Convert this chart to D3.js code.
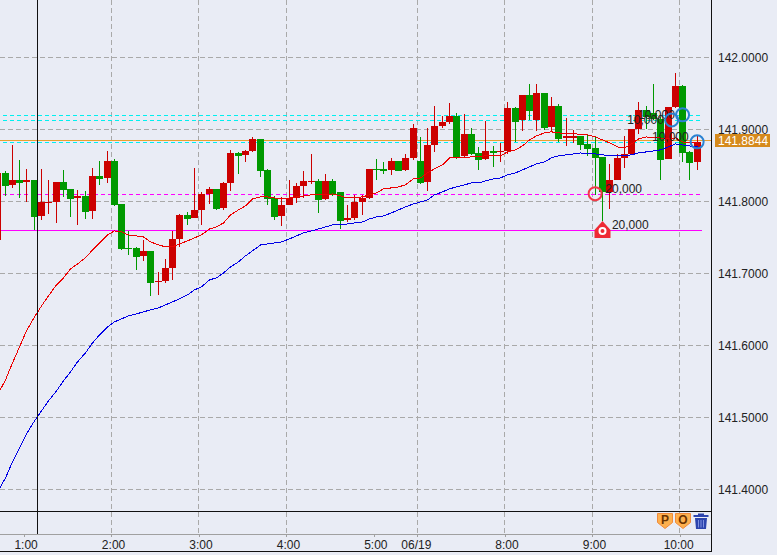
<!DOCTYPE html>
<html>
<head>
<meta charset="utf-8">
<script src="https://cdn.jsdelivr.net/npm/d3@7"></script>
<style>
  html, body { margin: 0; padding: 0; background: #e9ecf5; }
  svg { display: block; font-family: "Liberation Sans", Arial, sans-serif; }
  text { font-size: 12px; fill: #222; }
</style>
</head>
<body>
<svg id="chart" width="777" height="555"></svg>
<script>
// first candle is only just visible at the left edge
const firstIndex = -1;

const opens = [141.7463, 141.8393, 141.8227, 141.8296, 141.8268, 141.8296, 141.7796, 141.7976, 141.7990, 141.8268, 141.8171, 141.8046, 141.8074, 141.7865, 141.8352, 141.8324, 141.8560, 141.7962, 141.7352, 141.7352, 141.7241, 141.7310, 141.6879, 141.6893, 141.7074, 141.7477, 141.7810, 141.7768, 141.7879, 141.8101, 141.8171, 141.7907, 141.8254, 141.8671, 141.8644, 141.8699, 141.8865, 141.8435, 141.8046, 141.7796, 141.7949, 141.8046, 141.8213, 141.8268, 141.8282, 141.8032, 141.8282, 141.8129, 141.7740, 141.7768, 141.7990, 141.8046, 141.8449, 141.8449, 141.8435, 141.8560, 141.8435, 141.8602, 141.8560, 141.8268, 141.8782, 141.9046, 141.9101, 141.9185, 141.8630, 141.8935, 141.8671, 141.8588, 141.8699, 141.8685, 141.8699, 141.9296, 141.9129, 141.9476, 141.9129, 141.9504, 141.9032, 141.9324, 141.8879, 141.8879, 141.8907, 141.8796, 141.8740, 141.8616, 141.8129, 141.8296, 141.8602, 141.8657, 141.9004, 141.9268, 141.9226, 141.9143, 141.8588, 141.9310, 141.9601, 141.8685, 141.8546];
const highs = [141.8393, 141.8421, 141.8782, 141.8574, 141.8449, 141.8296, 141.8449, 141.8296, 141.8268, 141.8435, 141.8171, 141.8157, 141.8143, 141.8463, 141.8560, 141.8699, 141.8588, 141.7962, 141.7587, 141.7366, 141.7463, 141.7310, 141.7018, 141.7199, 141.7587, 141.7824, 141.7851, 141.8463, 141.8129, 141.8199, 141.8171, 141.8268, 141.8713, 141.8685, 141.8713, 141.8893, 141.8865, 141.8449, 141.8074, 141.8060, 141.8296, 141.8254, 141.8421, 141.8657, 141.8310, 141.8380, 141.8310, 141.8129, 141.7949, 141.8088, 141.8088, 141.8449, 141.8588, 141.8546, 141.8602, 141.8560, 141.8657, 141.9073, 141.8893, 141.9018, 141.9324, 141.9185, 141.9365, 141.9226, 141.9213, 141.9018, 141.8754, 141.9115, 141.8768, 141.8810, 141.9379, 141.9310, 141.9476, 141.9629, 141.9629, 141.9504, 141.9449, 141.9351, 141.9157, 141.8990, 141.8907, 141.8921, 141.8907, 141.8616, 141.8518, 141.8657, 141.8907, 141.9004, 141.9379, 141.9324, 141.9629, 141.9171, 141.9310, 141.9782, 141.9615, 141.8699, 141.8921];
const lows = [141.7463, 141.8074, 141.8185, 141.8046, 141.7990, 141.7601, 141.7740, 141.7824, 141.7698, 141.8060, 141.7782, 141.7670, 141.7754, 141.7754, 141.8227, 141.8254, 141.7935, 141.7324, 141.7255, 141.7046, 141.7171, 141.6685, 141.6699, 141.6865, 141.6907, 141.7366, 141.7670, 141.7768, 141.7670, 141.7962, 141.7879, 141.7879, 141.8143, 141.8380, 141.8546, 141.8685, 141.8338, 141.7949, 141.7740, 141.7657, 141.7949, 141.7976, 141.8046, 141.8240, 141.7838, 141.8018, 141.8074, 141.7615, 141.7712, 141.7740, 141.7810, 141.8032, 141.8296, 141.8380, 141.8366, 141.8421, 141.8421, 141.8574, 141.8240, 141.8143, 141.8685, 141.9018, 141.9073, 141.8588, 141.8616, 141.8644, 141.8435, 141.8574, 141.8477, 141.8546, 141.8657, 141.8824, 141.8976, 141.9129, 141.8976, 141.8990, 141.8963, 141.8824, 141.8768, 141.8810, 141.8713, 141.8630, 141.8088, 141.7726, 141.7893, 141.8296, 141.8463, 141.8657, 141.8935, 141.9004, 141.9129, 141.8296, 141.8588, 141.9296, 141.8546, 141.8296, 141.8435];
const closes = [141.8393, 141.8213, 141.8296, 141.8254, 141.8296, 141.7782, 141.7990, 141.7990, 141.8268, 141.8157, 141.8032, 141.8074, 141.7851, 141.8352, 141.8310, 141.8560, 141.7949, 141.7338, 141.7338, 141.7227, 141.7310, 141.6865, 141.6893, 141.7074, 141.7477, 141.7810, 141.7754, 141.7879, 141.8101, 141.8171, 141.7893, 141.8254, 141.8671, 141.8630, 141.8699, 141.8865, 141.8421, 141.8032, 141.7782, 141.7949, 141.8046, 141.8213, 141.8282, 141.8282, 141.8018, 141.8282, 141.8101, 141.7726, 141.7768, 141.7990, 141.8046, 141.8449, 141.8435, 141.8421, 141.8560, 141.8421, 141.8602, 141.9018, 141.8254, 141.8782, 141.9046, 141.9101, 141.9185, 141.8616, 141.8935, 141.8657, 141.8574, 141.8699, 141.8671, 141.8699, 141.9296, 141.9101, 141.9476, 141.9254, 141.9504, 141.9018, 141.9324, 141.8865, 141.8907, 141.8907, 141.8782, 141.8727, 141.8602, 141.8129, 141.8296, 141.8602, 141.8657, 141.9004, 141.9268, 141.9171, 141.9143, 141.8574, 141.9310, 141.9601, 141.8671, 141.8532, 141.8824];

const fastMa = [141.5310, 141.5518, 141.5754, 141.5976, 141.6199, 141.6393, 141.6546, 141.6685, 141.6838, 141.6935, 141.7060, 141.7129, 141.7213, 141.7324, 141.7421, 141.7532, 141.7587, 141.7573, 141.7532, 141.7518, 141.7504, 141.7435, 141.7393, 141.7366, 141.7366, 141.7407, 141.7449, 141.7491, 141.7532, 141.7615, 141.7643, 141.7698, 141.7810, 141.7879, 141.7935, 141.8032, 141.8060, 141.8060, 141.8046, 141.8032, 141.8046, 141.8060, 141.8074, 141.8088, 141.8088, 141.8088, 141.8101, 141.8074, 141.8046, 141.8046, 141.8060, 141.8088, 141.8115, 141.8171, 141.8185, 141.8199, 141.8227, 141.8310, 141.8324, 141.8393, 141.8449, 141.8504, 141.8602, 141.8602, 141.8602, 141.8616, 141.8616, 141.8630, 141.8630, 141.8630, 141.8685, 141.8713, 141.8768, 141.8851, 141.8907, 141.8949, 141.8963, 141.8949, 141.8935, 141.8949, 141.8921, 141.8921, 141.8893, 141.8851, 141.8810, 141.8754, 141.8740, 141.8796, 141.8865, 141.8893, 141.8879, 141.8879, 141.8865, 141.8879, 141.8824, 141.8810, 141.8810];
const slowMa = [141.3962, 141.4157, 141.4379, 141.4574, 141.4768, 141.4949, 141.5087, 141.5226, 141.5365, 141.5504, 141.5629, 141.5768, 141.5893, 141.6032, 141.6143, 141.6254, 141.6324, 141.6365, 141.6407, 141.6435, 141.6463, 141.6490, 141.6518, 141.6560, 141.6601, 141.6643, 141.6699, 141.6768, 141.6810, 141.6907, 141.6935, 141.7004, 141.7088, 141.7157, 141.7241, 141.7310, 141.7393, 141.7407, 141.7421, 141.7435, 141.7477, 141.7518, 141.7560, 141.7587, 141.7615, 141.7643, 141.7670, 141.7670, 141.7684, 141.7698, 141.7712, 141.7754, 141.7782, 141.7796, 141.7838, 141.7879, 141.7921, 141.7962, 141.7990, 141.8018, 141.8088, 141.8129, 141.8171, 141.8199, 141.8227, 141.8254, 141.8254, 141.8282, 141.8310, 141.8324, 141.8366, 141.8393, 141.8435, 141.8477, 141.8518, 141.8546, 141.8602, 141.8630, 141.8644, 141.8657, 141.8671, 141.8657, 141.8657, 141.8644, 141.8630, 141.8630, 141.8630, 141.8644, 141.8671, 141.8685, 141.8699, 141.8713, 141.8754, 141.8796, 141.8782, 141.8768, 141.8754];

const priceTicks = [142.0, 141.9, 141.8, 141.7, 141.6, 141.5, 141.4];
const timeTicks = [2.6, 14.6, 26.6, 38.6, 50.6, 56.6, 68.6, 80.6, 92.6];
const timeLabels = ['1:00', '2:00', '3:00', '4:00', '5:00', '06/19', '8:00', '9:00', '10:00'];
const timeGrid = [14.6, 26.6, 38.6, 56.6, 68.6, 80.6, 92.6];

const lastPrice = 141.8844;
const cyanLevels = [141.9195, 141.9125, 141.8820];
const dashedMagentaLevel = 141.8105;
const solidMagentaLevel = 141.7600;

const crosshairIndex = 4.5;
// order markers: [candle index, price]
const redMarker = [81, 141.8105];
const blueMarkers = [[91.5, 141.9129], [93, 141.9199], [95, 141.8824]];
const sizeLabels = [
  ['10,000', 85.4, 141.9129],
  ['10,000', 86.9, 141.9199],
  ['10,000', 88.8, 141.8893],
  ['20,000', 82.4, 141.8171],
  ['20,000', 83.3, 141.7671],
];

const plotRight = 711;
const plotBottom = 534;
const stripTop = 511;
const axisBottom = 551;

const svg = d3.select('#chart');

const y = d3.scaleLinear()
  .domain([142, 141.4])
  .range([57.2, 489.2]);
// candle spacing works out to 51 pixels per 7 bars
const x = d3.scaleLinear()
  .domain([0, 7])
  .range([5, 56]);
const col = i => Math.floor(x(i));
const row = p => Math.round(y(p));

// Grid
svg.append('g')
  .attr('class', 'grid-y')
  .selectAll('line')
  .data(priceTicks)
  .enter().append('line')
    .attr('x1', 0)
    .attr('x2', plotRight)
    .attr('y1', d => row(d) + 0.5)
    .attr('y2', d => row(d) + 0.5)
    .attr('stroke', '#a9a9a9')
    .attr('stroke-dasharray', '5,3');

svg.append('g')
  .attr('class', 'grid-x')
  .selectAll('line')
  .data(timeGrid)
  .enter().append('line')
    .attr('x1', d => col(d) + 0.5)
    .attr('x2', d => col(d) + 0.5)
    .attr('y1', 0)
    .attr('y2', plotBottom)
    .attr('stroke', '#a9a9a9')
    .attr('stroke-dasharray', '5,3');

// Price levels
const levels = svg.append('g').attr('class', 'levels');
cyanLevels.forEach(d => {
  levels.append('line')
    .attr('x1', 3).attr('x2', 702)
    .attr('y1', row(d) + 0.5).attr('y2', row(d) + 0.5)
    .attr('stroke', '#00f0f0')
    .attr('stroke-dasharray', '4,3');
});
levels.append('line')
  .attr('x1', 3).attr('x2', 702)
  .attr('y1', row(dashedMagentaLevel) + 0.5).attr('y2', row(dashedMagentaLevel) + 0.5)
  .attr('stroke', '#ff00ff')
  .attr('stroke-dasharray', '4,3');
levels.append('line')
  .attr('x1', 0).attr('x2', 702)
  .attr('y1', row(solidMagentaLevel) + 0.5).attr('y2', row(solidMagentaLevel) + 0.5)
  .attr('stroke', '#ff00ff');
levels.append('line')
  .attr('x1', 0).attr('x2', plotRight)
  .attr('y1', row(lastPrice) + 0.5).attr('y2', row(lastPrice) + 0.5)
  .attr('stroke', '#e8a030');

// Candles
const candles = opens.map((open, k) => ({
  i: k + firstIndex,
  open,
  high: highs[k],
  low: lows[k],
  close: closes[k],
}));
const candleColor = d => (d.close >= d.open ? '#cc0000' : '#009900');

const candleG = svg.append('g')
  .attr('class', 'candles')
  .attr('shape-rendering', 'crispEdges');
candleG.selectAll('.wick')
  .data(candles)
  .enter().append('rect')
    .attr('class', 'wick')
    .attr('x', d => col(d.i))
    .attr('width', 1)
    .attr('y', d => row(d.high))
    .attr('height', d => Math.max(1, row(d.low) - row(d.high)))
    .attr('fill', candleColor);
candleG.selectAll('.body')
  .data(candles)
  .enter().append('rect')
    .attr('class', 'body')
    .attr('x', d => col(d.i) - 3)
    .attr('width', 7)
    .attr('y', d => row(Math.max(d.open, d.close)))
    .attr('height', d => Math.max(1, row(Math.min(d.open, d.close)) - row(Math.max(d.open, d.close))))
    .attr('fill', candleColor);

// Moving averages
const maLine = d3.line()
  .x((d, k) => col(k + firstIndex) + 0.5)
  .y(d => y(d));
svg.append('path')
  .datum(fastMa)
  .attr('d', maLine)
  .attr('fill', 'none')
  .attr('stroke', '#ee0000')
  .attr('shape-rendering', 'crispEdges');
svg.append('path')
  .datum(slowMa)
  .attr('d', maLine)
  .attr('fill', 'none')
  .attr('stroke', '#0000e6')
  .attr('shape-rendering', 'crispEdges');

// Order markers
svg.append('g')
  .attr('class', 'size-labels')
  .selectAll('text')
  .data(sizeLabels)
  .enter().append('text')
    .attr('x', d => x(d[1]))
    .attr('y', d => y(d[2]))
    .attr('dy', '0.35em')
    .text(d => d[0]);

svg.append('circle')
  .attr('cx', x(redMarker[0]))
  .attr('cy', y(redMarker[1]))
  .attr('r', 6.5)
  .attr('fill', 'none')
  .attr('stroke', '#f03a48')
  .attr('stroke-width', 2);

svg.selectAll('.blue-marker')
  .data(blueMarkers)
  .enter().append('circle')
    .attr('class', 'blue-marker')
    .attr('cx', d => x(d[0]))
    .attr('cy', d => y(d[1]))
    .attr('r', 6.5)
    .attr('fill', 'none')
    .attr('stroke', '#2a82d2')
    .attr('stroke-width', 2);

// Stop-style marker under the long wick
const home = svg.append('g')
  .attr('transform', `translate(${col(82) + 0.5}, ${row(solidMagentaLevel)})`);
home.append('path')
  .attr('d', 'M-8,8 V0 L0,-9 L8,0 V8 Z')
  .attr('fill', '#ee2a34');
home.append('circle')
  .attr('cy', 1)
  .attr('r', 3)
  .attr('fill', '#ee2a34')
  .attr('stroke', '#fff')
  .attr('stroke-width', 2);

// Frame
const frame = svg.append('g').attr('shape-rendering', 'crispEdges');
const frameLine = (x1, y1, x2, y2, color) => frame.append('line')
  .attr('x1', x1).attr('y1', y1)
  .attr('x2', x2).attr('y2', y2)
  .attr('stroke', color);
frameLine(col(crosshairIndex) + 0.5, 0, col(crosshairIndex) + 0.5, plotBottom, '#111');
frameLine(0, stripTop + 0.5, plotRight, stripTop + 0.5, '#111');
frameLine(0, plotBottom + 0.5, plotRight, plotBottom + 0.5, '#a0a0a0');
frameLine(0, axisBottom + 0.5, plotRight + 1, axisBottom + 0.5, '#111');
frameLine(plotRight + 0.5, 0, plotRight + 0.5, axisBottom, '#111');

// Price axis
const yAxis = d3.axisRight(y)
  .tickValues(priceTicks)
  .tickSize(0)
  .tickPadding(0)
  .tickFormat(d3.format('.4f'));
svg.append('g')
  .attr('class', 'axis-y')
  .attr('transform', `translate(${plotRight + 7}, 0)`)
  .call(yAxis)
  .call(g => g.select('.domain').remove())
  .selectAll('text')
    .attr('font-size', 12)
    .attr('font-family', 'inherit');

svg.append('rect')
  .attr('x', plotRight + 4)
  .attr('y', row(lastPrice) - 6)
  .attr('width', 55)
  .attr('height', 13)
  .attr('fill', '#d68a1c');
svg.append('text')
  .attr('x', plotRight + 7)
  .attr('y', row(lastPrice) + 5)
  .style('fill', '#fff')
  .text(d3.format('.4f')(lastPrice));

// Time axis
const xAxis = d3.axisBottom(x)
  .tickValues(timeTicks)
  .tickSize(3)
  .tickPadding(0)
  .tickFormat((d, k) => timeLabels[k]);
svg.append('g')
  .attr('class', 'axis-x')
  .attr('transform', `translate(0, ${plotBottom})`)
  .call(xAxis)
  .call(g => g.select('.domain').remove())
  .call(g => g.selectAll('line')
    .attr('stroke', '#a0a0a0')
    .attr('shape-rendering', 'crispEdges'))
  .selectAll('text')
    .attr('font-size', 12)
    .attr('font-family', 'inherit')
    .attr('text-anchor', 'start')
    .attr('x', (d, k) => (timeLabels[k].length > 4 ? -16.5 : -10))
    .attr('y', 6)
    .attr('dy', '0.71em');

// P / O buttons and trash can
const badge = (bx, letter) => {
  const g = svg.append('g').attr('transform', `translate(${bx}, 513)`);
  g.append('path')
    .attr('d', 'M0.5,0.5 H15.5 V9.5 L8,15.5 L0.5,9.5 Z')
    .attr('fill', '#fdb04e')
    .attr('stroke', '#f08a3c');
  g.append('text')
    .attr('x', 8)
    .attr('y', 11)
    .attr('text-anchor', 'middle')
    .attr('font-weight', 'bold')
    .style('font-size', '12px')
    .style('fill', '#6a3200')
    .text(letter);
};
badge(657, 'P');
badge(675, 'O');

const trash = svg.append('g').attr('transform', 'translate(693, 513)');
trash.append('path')
  .attr('d', 'M5,2 V0.5 H11 V2 H15.5 V4 H0.5 V2 Z')
  .attr('fill', '#2c44ae');
trash.append('path')
  .attr('d', 'M2,5 H14 L13,16 H3 Z')
  .attr('fill', '#2c44ae');
trash.selectAll('.slot')
  .data([5.5, 8, 10.5])
  .enter().append('line')
    .attr('class', 'slot')
    .attr('x1', d => d).attr('x2', d => d)
    .attr('y1', 7).attr('y2', 14.5)
    .attr('stroke', '#7e90e0');
</script>
</body>
</html>
